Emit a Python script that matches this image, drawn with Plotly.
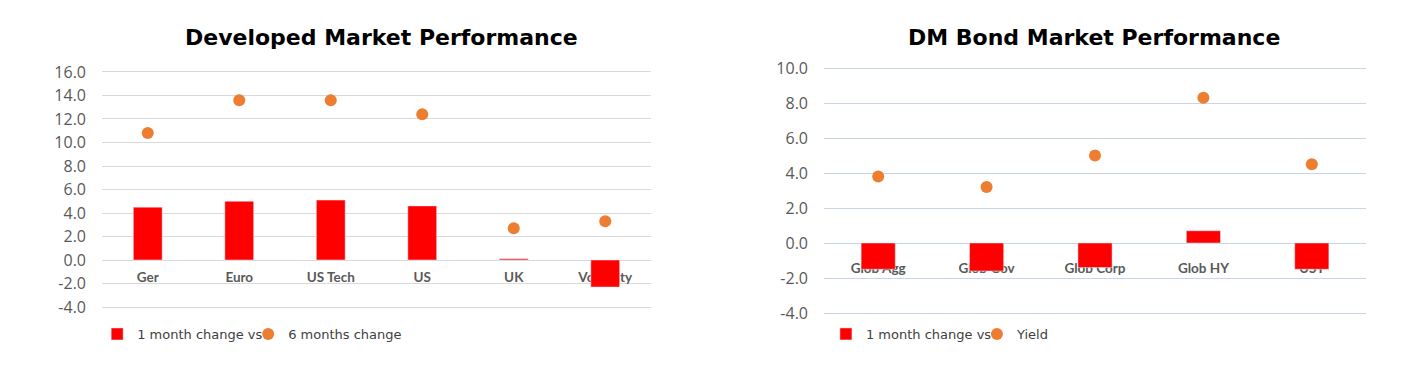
import plotly.graph_objects as go

# ---- data ----
dm_categories = ["Ger", "Euro", "US Tech", "US", "UK", "Volatility"]
dm_1m_change = [4.5, 5.0, 5.1, 4.6, 0.1, -2.3]
dm_6m_change = [10.8, 13.6, 13.6, 12.4, 2.7, 3.3]

bond_categories = ["Glob Agg", "Glob Gov", "Glob Corp", "Glob HY", "UST"]
bond_1m_change = [-1.5, -1.6, -1.4, 0.7, -1.5]
bond_yield = [3.8, 3.2, 5.0, 8.3, 4.5]

dm_ticks = [16, 14, 12, 10, 8, 6, 4, 2, 0, -2, -4]
bond_ticks = [10, 8, 6, 4, 2, 0, -2, -4]

titles = ["Developed Market Performance", "DM Bond Market Performance"]
legend_left = ["1 month change vs", "6 months change"]
legend_right = ["1 month change vs", "Yield"]

RED = "#ff0000"
ORANGE = "#ed7d31"
TICK_FONT = dict(family="Open Sans", size=16, color="#595959")
CAT_FONT = dict(family="Lato", size=13.5, color="#595959")
LEG_FONT = dict(family="DejaVu Sans", size=13, color="#404040")

W, H, OFF = 1422, 371, 8  # page body margin offset


def px_x(x):
    return (x - OFF) / W


def px_y(y):
    return 1 - (y - OFF) / H


fig = go.Figure()

# category labels (drawn on base axes, beneath the bars)
fig.add_trace(go.Scatter(x=dm_categories, y=[-1.6] * len(dm_categories), mode="text",
                         text=["<b>%s</b>" % c for c in dm_categories], textfont=CAT_FONT,
                         xaxis="x", yaxis="y", showlegend=False, hoverinfo="skip"))
fig.add_trace(go.Scatter(x=bond_categories, y=[-1.55] * len(bond_categories), mode="text",
                         text=["<b>%s</b>" % c for c in bond_categories], textfont=CAT_FONT,
                         xaxis="x2", yaxis="y2", showlegend=False, hoverinfo="skip"))

# left chart marks
fig.add_trace(go.Bar(x=dm_categories, y=dm_1m_change, name=legend_left[0], marker_color=RED,
                     xaxis="x3", yaxis="y3", legend="legend"))
fig.add_trace(go.Scatter(x=dm_categories, y=dm_6m_change, name=legend_left[1], mode="markers",
                         marker=dict(color=ORANGE, size=12), xaxis="x3", yaxis="y3", legend="legend"))
# empty legend spacer so the second legend label is not clipped
fig.add_trace(go.Scatter(x=[None], y=[None], name=" ", mode="lines",
                         line=dict(color="rgba(0,0,0,0)", width=0), xaxis="x3", yaxis="y3",
                         legend="legend", hoverinfo="skip"))
# right chart marks
fig.add_trace(go.Bar(x=bond_categories, y=bond_1m_change, name=legend_right[0], marker_color=RED,
                     xaxis="x4", yaxis="y4", legend="legend2"))
fig.add_trace(go.Scatter(x=bond_categories, y=bond_yield, name=legend_right[1], mode="markers",
                         marker=dict(color=ORANGE, size=12), xaxis="x4", yaxis="y4", legend="legend2"))

L_DOM = [px_x(102), px_x(651)]
R_DOM = [px_x(824), px_x(1366)]
L_YDOM = [px_y(308.2), px_y(70.8)]
R_YDOM = [px_y(314.05), px_y(66.95)]
L_RANGE = [-4.1, 16.1]
R_RANGE = [-4.06, 10.06]
L_XR = [-0.5, len(dm_categories) - 0.5]
R_XR = [-0.5, len(bond_categories) - 0.5]


def yax(dom, rng, ticks, gridcolor):
    return dict(domain=dom, range=rng, tickvals=ticks, ticktext=["%.1f" % t for t in ticks],
                showgrid=True, gridcolor=gridcolor, gridwidth=1.3, zeroline=False,
                showline=False, ticks="", tickfont=TICK_FONT, ticklabelstandoff=15,
                fixedrange=True)


def xax(dom, cats, rng):
    return dict(domain=dom, type="category", categoryarray=cats, range=rng,
                showgrid=False, showticklabels=False, zeroline=False, showline=False, ticks="")


fig.update_layout(
    width=W, height=H,
    margin=dict(l=0, r=0, t=0, b=0, autoexpand=False),
    paper_bgcolor="white", plot_bgcolor="white",
    bargap=0.685,
    xaxis=xax(L_DOM, dm_categories, L_XR),
    yaxis=yax(L_YDOM, L_RANGE, dm_ticks, "#d9d9d9"),
    xaxis2=xax(R_DOM, bond_categories, R_XR),
    yaxis2=dict(yax(R_YDOM, R_RANGE, bond_ticks, "#c9d3e9"), anchor="x2"),
    xaxis3=dict(xax(L_DOM, dm_categories, L_XR), overlaying="x", anchor="y3", visible=False),
    yaxis3=dict(domain=L_YDOM, range=L_RANGE, overlaying="y", anchor="x3", visible=False, showgrid=False, zeroline=False),
    xaxis4=dict(xax(R_DOM, bond_categories, R_XR), overlaying="x2", anchor="y4", visible=False),
    yaxis4=dict(domain=R_YDOM, range=R_RANGE, overlaying="y2", anchor="x4", visible=False, showgrid=False, zeroline=False),
    legend=dict(orientation="h", x=0.0627, y=px_y(334), xanchor="left", yanchor="middle",
                font=LEG_FONT, entrywidth=106, entrywidthmode="pixels", bgcolor="rgba(0,0,0,0)"),
    legend2=dict(orientation="h", x=0.5752, y=px_y(334), xanchor="left", yanchor="middle",
                 font=LEG_FONT, entrywidth=106, entrywidthmode="pixels", bgcolor="rgba(0,0,0,0)"),
    annotations=[
        dict(text="<b>%s</b>" % titles[0], x=px_x(381), y=px_y(37), xref="paper", yref="paper",
             showarrow=False, xanchor="center", yanchor="middle",
             font=dict(family="DejaVu Sans", size=22, color="#000000")),
        dict(text="<b>%s</b>" % titles[1], x=px_x(1094), y=px_y(37), xref="paper", yref="paper",
             showarrow=False, xanchor="center", yanchor="middle",
             font=dict(family="DejaVu Sans", size=22, color="#000000")),
    ],
)

fig.write_html("out.html")
